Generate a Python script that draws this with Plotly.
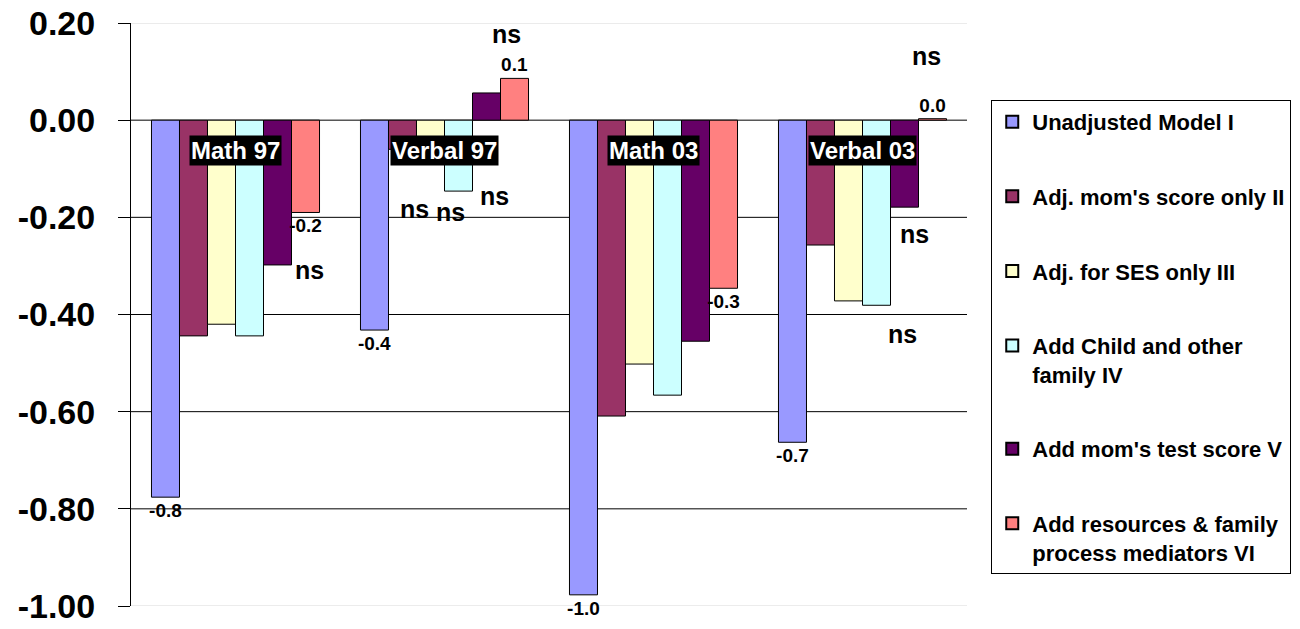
import plotly.graph_objects as go

# ---------------- data ----------------
categories = ["Math 97", "Verbal 97", "Math 03", "Verbal 03"]
series_names = [
    "Unadjusted Model I",
    "Adj. mom's score only II",
    "Adj. for SES only III",
    "Add Child and other<br>family IV",
    "Add mom's test score V",
    "Add resources & family<br>process mediators VI",
]
unadjusted = [-0.776, -0.432, -0.977, -0.663]
adj_mom = [-0.444, -0.06, -0.609, -0.257]
adj_ses = [-0.420, -0.07, -0.502, -0.372]
add_child = [-0.444, -0.146, -0.566, -0.381]
add_mom_test = [-0.298, 0.056, -0.455, -0.179]
add_resources = [-0.190, 0.086, -0.346, 0.003]
series_values = [unadjusted, adj_mom, adj_ses, add_child, add_mom_test, add_resources]
labelled_series = [0, 5]  # series that carry value labels

tick_vals = [0.20, 0.00, -0.20, -0.40, -0.60, -0.80, -1.00]
tick_text = ["0.20", "0.00", "-0.20", "-0.40", "-0.60", "-0.80", "-1.00"]

# "ns" (not significant) markers
ns_categories = ["Math 97", "Verbal 97", "Verbal 97", "Verbal 97", "Verbal 97",
                 "Verbal 03", "Verbal 03", "Verbal 03"]
ns_y = [-0.309, -0.183, -0.189, -0.156, 0.177, 0.132, -0.235, -0.440]

# ---------------- style ----------------
colors = ["#9999FF", "#993366", "#FFFFCC", "#CCFFFF", "#660066", "#FF8080"]
ns_xshift = [74, -30, 6, 50, 62, 64, 52, 40]
FONT = "Arial, 'Liberation Sans', sans-serif"

fig = go.Figure()
for i, (name, vals) in enumerate(zip(series_names, series_values)):
    kw = {}
    if i in labelled_series:
        kw = dict(
            texttemplate="%{y:.1f}",
            textposition="outside",
            textfont=dict(family=FONT, size=19, color="black", weight="bold"),
            constraintext="none",
            cliponaxis=False,
        )
    fig.add_trace(go.Bar(
        x=categories, y=vals, name=name,
        marker=dict(color=colors[i], line=dict(color="black", width=1)),
        legendgroup=f"g{i}",
        hoverinfo="x+y+name",
        **kw,
    ))

# gridlines (built from the tick values)
shapes = []
for v in tick_vals:
    edge = v in (tick_vals[0], tick_vals[-1])
    shapes.append(dict(
        type="line", xref="paper", yref="y", x0=0, x1=1, y0=v, y1=v,
        line=dict(color="#D8D8D8" if edge else "black", width=1),
        layer="below",
    ))

annotations = []
# category labels on black boxes just under the zero line
for c in categories:
    annotations.append(dict(
        x=c, y=0, xref="x", yref="y", text=c, showarrow=False,
        yanchor="top", yshift=-15,
        font=dict(family=FONT, size=24, color="white", weight="bold"),
        bgcolor="black", borderpad=1,
    ))
# ns markers
for c, y, xs in zip(ns_categories, ns_y, ns_xshift):
    annotations.append(dict(
        x=c, y=y, xref="x", yref="y", text="ns", showarrow=False,
        xshift=xs, font=dict(family=FONT, size=25, color="black", weight="bold"),
    ))

fig.update_layout(
    width=1300, height=629,
    margin=dict(l=131, r=333, t=23, b=23, autoexpand=False),
    paper_bgcolor="white", plot_bgcolor="white",
    barmode="group", bargap=0.196, bargroupgap=0,
    font=dict(family=FONT, color="black"),
    shapes=shapes,
    annotations=annotations,
    showlegend=True,
    legend=dict(
        x=1.029, y=0.868, xanchor="left", yanchor="top",
        bordercolor="black", borderwidth=1, bgcolor="white",
        font=dict(family=FONT, size=22, color="black", weight="bold"),
        tracegroupgap=43, valign="top", itemsizing="constant", itemwidth=30,
    ),
    xaxis=dict(showticklabels=False, showgrid=False, showline=False, ticks="",
               zeroline=False, fixedrange=True, automargin=False),
    yaxis=dict(
        range=[-1.0, 0.2], tickvals=tick_vals, ticktext=tick_text,
        showgrid=False, zeroline=False, automargin=False,
        showline=True, linecolor="black", linewidth=1,
        ticks="outside", ticklen=12, tickcolor="black",
        ticklabelstandoff=16, ticklabeloverflow="allow",
        tickfont=dict(family=FONT, size=34, color="black", weight="bold"),
    ),
)

fig.write_html(
    "out.html",
    config={"displayModeBar": False},
    post_script="document.body.style.margin='0';",
)
